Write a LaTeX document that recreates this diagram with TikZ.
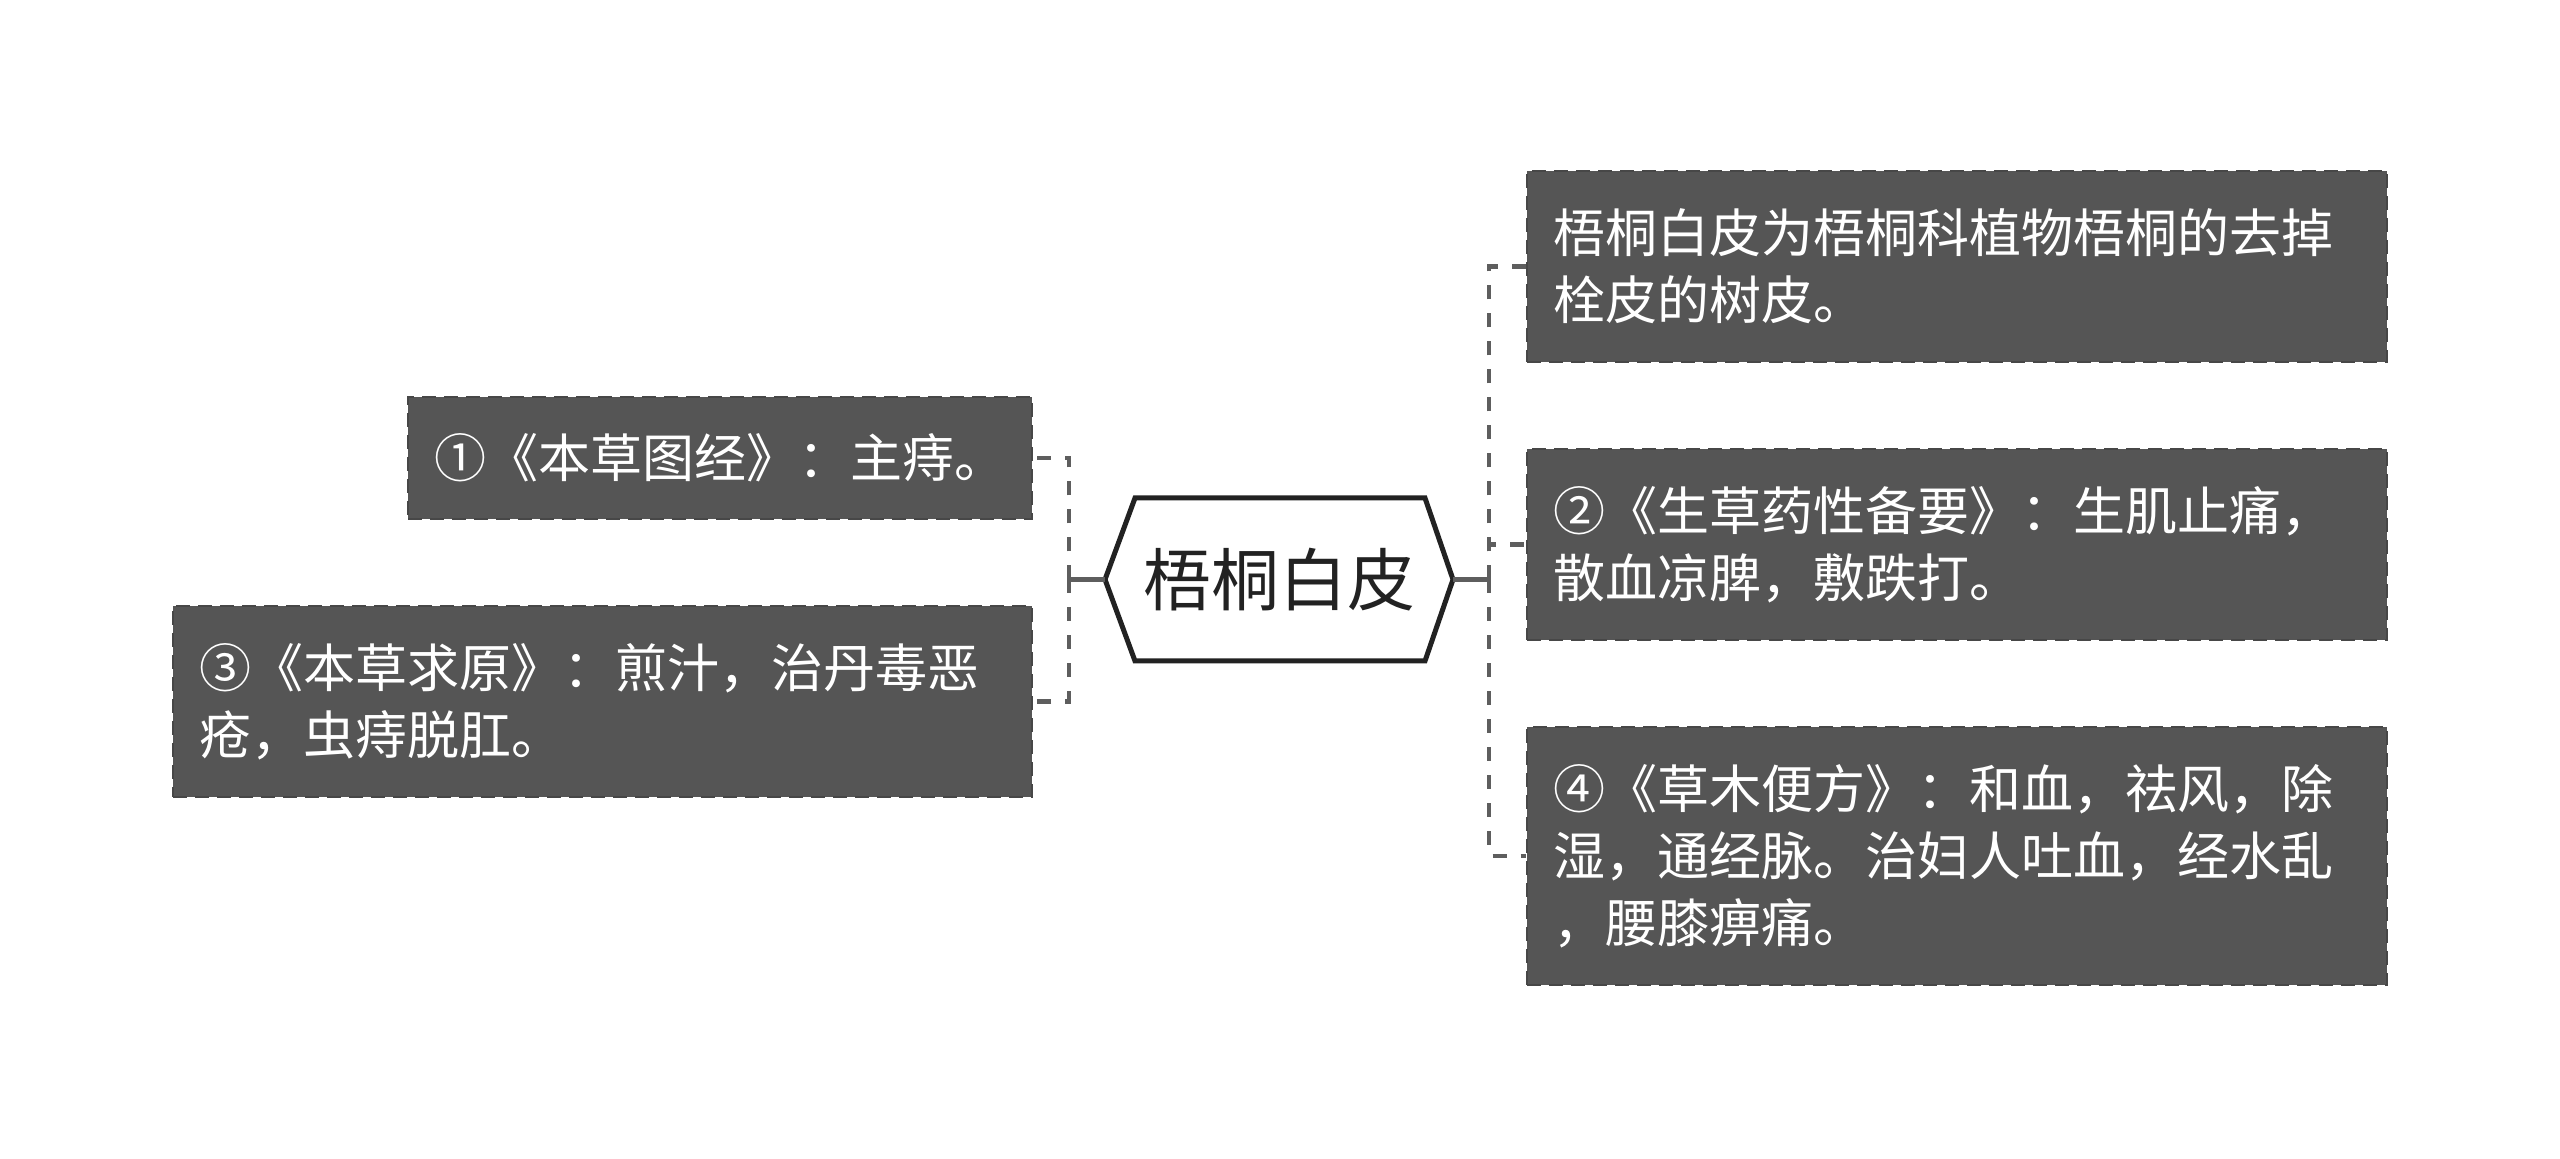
\documentclass[tikz,border=0pt]{standalone}
\usepackage{fontspec}
\setmainfont{Noto Sans CJK SC}
\definecolor{boxfill}{HTML}{555555}
\definecolor{boxline}{HTML}{474747}
\definecolor{connc}{HTML}{5E5E5E}
\definecolor{hexc}{HTML}{222222}
\begin{document}
\begin{tikzpicture}[x=0.5pt,y=-0.5pt,
  leafbox/.style={draw=boxline, fill=boxfill, line width=1.4pt,
    dash pattern=on 7pt off 4pt, text=white, align=left,
    inner xsep=13pt, inner ysep=0pt,
    font=\fontsize{26}{33.5}\selectfont},
  conn/.style={draw=connc, line width=2.3pt},
  dconn/.style={draw=connc, line width=2.3pt, dash pattern=on 7pt off 7pt},
  hexline/.style={draw=hexc, line width=2.5pt, line join=miter}]
\useasboundingbox[fill=white] (0,0) rectangle (2560,1159);

% central hexagon
\draw[hexline] (1105,579.5) -- (1135,498) -- (1425,498) -- (1453,579.5)
  -- (1425,661) -- (1135,661) -- cycle;
\node[text=hexc, font=\fontsize{34}{40}\selectfont] (c) at (1279,579.5) {梧桐白皮};
\coordinate (hexL) at (1105,579.5);
\coordinate (hexR) at (1453,579.5);
\coordinate (lj) at (1069,579.5);
\coordinate (rj) at (1489,579.5);

% left boxes
\node[leafbox, text width=286pt, minimum height=61pt] (l1) at (720,458)
  {①《本草图经》：主痔。};
\node[leafbox, text width=403.5pt, minimum height=95.5pt] (l3) at (602.5,701.5)
  {③《本草求原》：煎汁，治丹毒恶\\疮，虫痔脱肛。};

% right boxes
\node[leafbox, text width=404pt, minimum height=95.5pt] (r1) at (1957,266.5)
  {梧桐白皮为梧桐科植物梧桐的去掉\\栓皮的树皮。};
\node[leafbox, text width=404pt, minimum height=95.5pt] (r2) at (1957,544.5)
  {②《生草药性备要》：生肌止痛，\\散血凉脾，敷跌打。};
\node[leafbox, text width=404pt, minimum height=129pt] (r4) at (1957,856)
  {④《草木便方》：和血，祛风，除\\湿，通经脉。治妇人吐血，经水乱\\，腰膝痹痛。};

% connectors
\draw[conn] (hexL) -- (lj);
\draw[dconn] (lj) |- (l1.east);
\draw[dconn] (lj) |- (l3.east);
\draw[conn] (hexR) -- (rj);
\draw[dconn] (rj) |- (r1.west);
\draw[dconn] (rj) |- (r2.west);
\draw[dconn] (rj) |- (r4.west);
\end{tikzpicture}
\end{document}
